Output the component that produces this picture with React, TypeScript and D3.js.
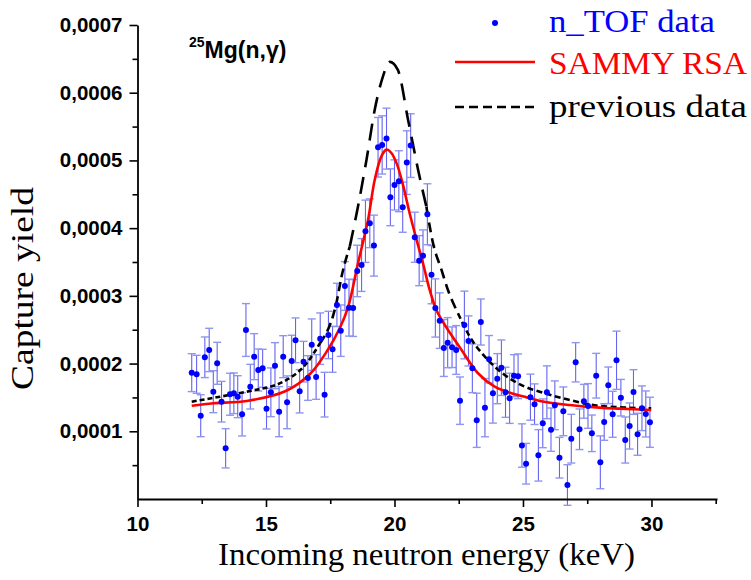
import React, { useEffect, useRef } from 'react';
import * as d3 from 'd3';

// ---- data ----
const energies = [
  12.11, 12.30, 12.46, 12.62, 12.79, 12.95, 13.10, 13.27, 13.43, 13.60,
  13.75, 13.90, 14.07, 14.22, 14.39, 14.54, 14.70, 14.87, 15.02, 15.19,
  15.35, 15.51, 15.67, 15.82, 16.00, 16.15, 16.31, 16.46, 16.63, 16.78,
  16.95, 17.11, 17.28, 17.43, 17.59, 17.76, 17.91, 18.07, 18.23, 18.39,
  18.55, 18.72, 18.87, 19.04, 19.20, 19.36, 19.52, 19.69, 19.84, 20.00,
  20.17, 20.32, 20.48, 20.63, 20.79, 20.96, 21.11, 21.28, 21.44, 21.59,
  21.76, 21.92, 22.07, 22.24, 22.40, 22.55, 22.72, 22.88, 23.03, 23.20,
  23.36, 23.52, 23.68, 23.83, 24.00, 24.16, 24.32, 24.48, 24.65, 24.81,
  24.96, 25.12, 25.29, 25.45, 25.60, 25.77, 25.93, 26.09, 26.24, 26.42,
  26.57, 26.73, 26.88, 27.05, 27.20, 27.37, 27.53, 27.68, 27.85, 28.01,
  28.16, 28.32, 28.49, 28.64, 28.81, 28.98, 29.15, 29.30, 29.46, 29.63,
  29.78, 29.94,
];

const yields = [
  0.0001866, 0.0001842, 0.0001230, 0.0002093, 0.0002201, 0.0001585, 0.0002004, 0.0001437, 0.0000749, 0.0001547,
  0.0001561, 0.0001511, 0.0001251, 0.0002496, 0.0001659, 0.0002102, 0.0001905, 0.0001931, 0.0001334, 0.0001576,
  0.0001969, 0.0001290, 0.0002102, 0.0001428, 0.0002038, 0.0002344, 0.0001591, 0.0002028, 0.0001787, 0.0002279,
  0.0001802, 0.0002368, 0.0001541, 0.0002422, 0.0002211, 0.0002866, 0.0002486, 0.0003146, 0.0002826, 0.0002821,
  0.0003368, 0.0003456, 0.0003954, 0.0004072, 0.0003742, 0.0005195, 0.0005229, 0.0005322, 0.0004456, 0.0004638,
  0.0004693, 0.0004309, 0.0004968, 0.0005219, 0.0003866, 0.0003520, 0.0003594, 0.0004205, 0.0003313, 0.0002821,
  0.0002634, 0.0002230, 0.0002309, 0.0002241, 0.0002201, 0.0001452, 0.0002570, 0.0002334, 0.0001931, 0.0001162,
  0.0002614, 0.0001349, 0.0002064, 0.0001561, 0.0001777, 0.0001939, 0.0001576, 0.0001487, 0.0001821, 0.0001812,
  0.0000790, 0.0000521, 0.0001504, 0.0001400, 0.0000645, 0.0001118, 0.0001576, 0.0001024, 0.0001384, 0.0000610,
  0.0001295, 0.0000207, 0.0000891, 0.0002019, 0.0001030, 0.0001443, 0.0001374, 0.0000970, 0.0001821, 0.0000542,
  0.0001137, 0.0001679, 0.0001251, 0.0002049, 0.0001496, 0.0000871, 0.0001078, 0.0001580, 0.0000956, 0.0001340,
  0.0001256, 0.0001133,
];

const yieldErrors = [
  0.000028, 0.000028, 0.000031, 0.000030, 0.000032, 0.000031, 0.000031, 0.000030, 0.000029, 0.000031,
  0.000030, 0.000031, 0.000032, 0.000039, 0.000033, 0.000034, 0.000031, 0.000028, 0.000030, 0.000036,
  0.000034, 0.000037, 0.000031, 0.000039, 0.000038, 0.000033, 0.000032, 0.000030, 0.000033, 0.000038,
  0.000033, 0.000038, 0.000033, 0.000035, 0.000034, 0.000032, 0.000038, 0.000036, 0.000042, 0.000042,
  0.000038, 0.000039, 0.000046, 0.000036, 0.000045, 0.000044, 0.000043, 0.000045, 0.000042, 0.000037,
  0.000045, 0.000037, 0.000047, 0.000047, 0.000037, 0.000037, 0.000038, 0.000045, 0.000043, 0.000043,
  0.000041, 0.000042, 0.000037, 0.000030, 0.000036, 0.000035, 0.000050, 0.000037, 0.000036, 0.000040,
  0.000034, 0.000043, 0.000035, 0.000044, 0.000037, 0.000041, 0.000037, 0.000037, 0.000031, 0.000033,
  0.000032, 0.000030, 0.000034, 0.000030, 0.000038, 0.000036, 0.000039, 0.000032, 0.000036, 0.000030,
  0.000036, 0.000030, 0.000036, 0.000029, 0.000030, 0.000025, 0.000033, 0.000027, 0.000033, 0.000039,
  0.000027, 0.000027, 0.000034, 0.000043, 0.000027, 0.000034, 0.000034, 0.000033, 0.000031, 0.000033,
  0.000034, 0.000037,
];

// SAMMY RSA fit curve
const fitEnergies = [
  12.11, 12.95, 14.25, 15.77, 16.71, 17.36, 17.87, 18.20, 18.58, 18.97, 19.23, 19.49, 19.69, 19.88, 20.08, 20.33,
  20.59, 20.86, 21.11, 21.37, 21.63, 21.96, 22.61, 23.25, 23.90, 24.55, 25.07, 25.65, 26.82, 27.98, 28.76, 29.99,
];
const fitYields = [
  0.0001378, 0.0001414, 0.0001448, 0.0001595, 0.0001846, 0.0002176, 0.0002521, 0.0002840, 0.0003482, 0.0004121,
  0.0004712, 0.0005060, 0.0005160, 0.0005110, 0.0004960, 0.0004640, 0.0004220, 0.0003826, 0.0003482, 0.0003087,
  0.0002792, 0.0002570, 0.0002201, 0.0001857, 0.0001659, 0.0001561, 0.0001511, 0.0001448, 0.0001388, 0.0001349,
  0.0001334, 0.0001315,
];

// previous data curve
const prevEnergies = [
  12.11, 13.21, 14.25, 15.80, 16.58, 17.10, 17.75, 17.94, 18.26, 18.58, 18.91, 19.23, 19.51, 19.82, 20.13, 20.53,
  20.92, 21.24, 21.50, 21.83, 22.08, 22.47, 22.93, 23.64, 24.29, 25.07, 25.65, 26.82, 27.98, 28.76, 29.99,
];
const prevYields = [
  0.0001437, 0.0001511, 0.0001585, 0.0001758, 0.0002004, 0.0002300, 0.0002914, 0.0003284, 0.0003727, 0.0004318,
  0.0005007, 0.0005746, 0.0006189, 0.0006455, 0.0006337, 0.0005598, 0.0004860, 0.0004318, 0.0003777, 0.0003383,
  0.0003087, 0.0002743, 0.0002397, 0.0002053, 0.0001832, 0.0001659, 0.0001585, 0.0001462, 0.0001374, 0.0001354,
  0.0001340,
];

const xMajorTicks = [10, 15, 20, 25, 30];
const xTickLabels = ['10', '15', '20', '25', '30'];
const xMinorTicks = [12.5, 17.5, 22.5, 27.5, 32.5];
const yMajorTicks = [0.0001, 0.0002, 0.0003, 0.0004, 0.0005, 0.0006, 0.0007];
const yTickLabels = ['0,0001', '0,0002', '0,0003', '0,0004', '0,0005', '0,0006', '0,0007'];
const yMinorTicks = [0.00005, 0.00015, 0.00025, 0.00035, 0.00045, 0.00055, 0.00065];

const legendLabels = ['n_TOF data', 'SAMMY RSA', 'previous data'];

const W = 751;
const H = 580;

export default function App() {
  const axRef = useRef<SVGGElement>(null);
  const x = d3.scaleLinear().domain([10, 32.55]).range([137.5, 717]);
  const y = d3.scaleLinear().domain([0, 0.0007]).range([499, 25]);

  useEffect(() => {
    const g = d3.select(axRef.current);
    g.selectAll('*').remove();
    const tickFont = "'Liberation Sans', Arial, sans-serif";

    const xMinor = g.append('g').attr('transform', 'translate(0,499)')
      .call(d3.axisBottom(x).tickValues(xMinorTicks).tickSize(5).tickSizeOuter(0).tickFormat(() => ''));
    xMinor.select('.domain').remove();
    const xMajor = g.append('g').attr('transform', 'translate(0,499)')
      .call(d3.axisBottom(x).tickValues(xMajorTicks).tickSize(8).tickSizeOuter(0).tickPadding(9)
        .tickFormat((_d, i) => xTickLabels[i]));

    const yMinor = g.append('g').attr('transform', 'translate(137.5,0)')
      .call(d3.axisLeft(y).tickValues(yMinorTicks).tickSize(5).tickSizeOuter(0).tickFormat(() => ''));
    yMinor.select('.domain').remove();
    const yMajor = g.append('g').attr('transform', 'translate(137.5,0)')
      .call(d3.axisLeft(y).tickValues(yMajorTicks).tickSize(8).tickSizeOuter(0).tickPadding(7)
        .tickFormat((_d, i) => yTickLabels[i]));

    g.selectAll('.domain').attr('stroke', '#000').attr('stroke-width', 1.8);
    g.selectAll('.tick line').attr('stroke', '#000').attr('stroke-width', 1.6);
    [xMajor, yMajor].forEach((a) =>
      a.selectAll('text')
        .attr('font-family', tickFont)
        .attr('font-weight', 'bold')
        .attr('font-size', 20.5)
        .attr('fill', '#000'));
  }, []);

  const fitLine = d3.line<number>()
    .x((_d, i) => x(fitEnergies[i]))
    .y((d) => y(d))
    .curve(d3.curveCatmullRom.alpha(0.5));

  const prevLine = (idx: number[]) =>
    d3.line<number>()
      .x((i) => x(prevEnergies[i]))
      .y((i) => y(prevYields[i]))
      .curve(d3.curveMonotoneX)(idx) || '';

  const range = (a: number, b: number) => d3.range(a, b + 1);
  const prevSegments = [
    { idx: range(0, 5), dash: '5,3' },
    { idx: range(5, 8), dash: '9,5' },
    { idx: range(8, 17), dash: '17,10' },
    { idx: range(17, 21), dash: '10,6' },
    { idx: range(21, prevEnergies.length - 1), dash: '6,3.5' },
  ];

  const serif = "'Liberation Serif', 'DejaVu Serif', serif";
  const cap = 4;

  return (
    <svg width={W} height={H} style={{ position: 'absolute', left: 0, top: 0, background: '#fff' }}
      xmlns="http://www.w3.org/2000/svg">
      <rect width={W} height={H} fill="#fff" />
      {/* error bars */}
      <g>
        {energies.map((e, i) => {
          const cx = x(e);
          const y1 = y(yields[i] + yieldErrors[i]);
          const y2 = y(yields[i] - yieldErrors[i]);
          return (
            <g key={i}>
              <line x1={cx} x2={cx} y1={y1} y2={y2} stroke="#6464f0" strokeWidth={1.1} />
              <line x1={cx - cap} x2={cx + cap} y1={y1} y2={y1} stroke="#8f96ee" strokeWidth={1.4} />
              <line x1={cx - cap} x2={cx + cap} y1={y2} y2={y2} stroke="#8f96ee" strokeWidth={1.4} />
            </g>
          );
        })}
      </g>
      {/* previous data (dashed black) */}
      <g fill="none" stroke="#000" strokeWidth={2.6}>
        {prevSegments.map((s, i) => (
          <path key={i} d={prevLine(s.idx)} strokeDasharray={s.dash} />
        ))}
      </g>
      {/* SAMMY fit */}
      <path d={fitLine(fitYields) || ''} fill="none" stroke="#ff0000" strokeWidth={2.6} />
      {/* data points */}
      <g fill="#0000ff">
        {energies.map((e, i) => (
          <circle key={i} cx={x(e)} cy={y(yields[i])} r={3} />
        ))}
      </g>

      <g ref={axRef} />

      {/* annotation */}
      <text x={189} y={58} fontFamily="'Liberation Sans', Arial, sans-serif" fontWeight="bold" fill="#000">
        <tspan fontSize={14} dy={-11}>25</tspan>
        <tspan fontSize={23} dy={11}>Mg(n,γ)</tspan>
      </text>

      {/* legend */}
      <circle cx={495} cy={23} r={3} fill="#0000ff" />
      <text x={549} y={32} fontFamily={serif} fontSize={32} textLength={166} lengthAdjust="spacingAndGlyphs" fill="#0000ff">{legendLabels[0]}</text>
      <line x1={455} x2={535} y1={62} y2={62} stroke="#ff0000" strokeWidth={2.6} />
      <text x={549} y={74} fontFamily={serif} fontSize={32} textLength={198} lengthAdjust="spacingAndGlyphs" fill="#ff0000">{legendLabels[1]}</text>
      <line x1={455} x2={535} y1={107} y2={107} stroke="#000" strokeWidth={2.6} strokeDasharray="9,5" />
      <text x={549} y={117} fontFamily={serif} fontSize={32} textLength={198} lengthAdjust="spacingAndGlyphs" fill="#000">{legendLabels[2]}</text>

      {/* axis titles */}
      <text x={218} y={565} fontFamily={serif} fontSize={32} textLength={417} lengthAdjust="spacingAndGlyphs" fill="#000">
        Incoming neutron energy (keV)
      </text>
      <text transform="translate(33,390) rotate(-90)" fontFamily={serif} fontSize={32} textLength={203} lengthAdjust="spacingAndGlyphs" fill="#000">
        Capture yield
      </text>
    </svg>
  );
}
